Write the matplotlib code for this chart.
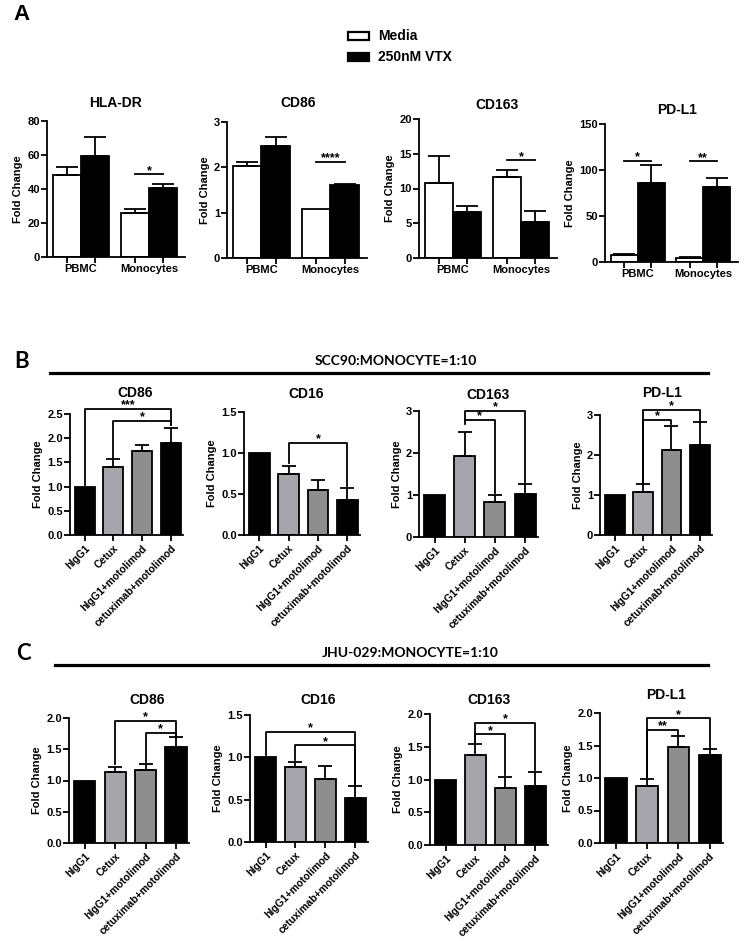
import matplotlib
matplotlib.use('Agg')
import matplotlib.pyplot as plt
from matplotlib.patches import Rectangle
from matplotlib.transforms import offset_copy
import numpy as np

plt.rcParams['font.family'] = ['Liberation Sans', 'DejaVu Sans']

# ---------------- data ----------------
A_titles = ["HLA-DR", "CD86", "CD163", "PD-L1"]
A_groups = ["PBMC", "Monocytes"]
A_legend = ["Media", "250nM VTX"]
A_media = [[48, 26], [2.04, 1.07], [10.8, 11.65], [7.2, 4.3]]
A_media_err = [[4.8, 2.2], [0.08, 0.0], [3.9, 1.05], [1.5, 0.7]]
A_vtx = [[59.5, 40.5], [2.46, 1.60], [6.6, 5.2], [86, 81]]
A_vtx_err = [[11.3, 2.4], [0.22, 0.03], [0.95, 1.6], [19.5, 10]]
A_ymax = [80, 3, 20, 150]
A_ystep = [20, 1, 5, 50]
# (group index, line height, label)
A_sig = [[(1, 48.6, "*")], [(1, 2.12, "****")], [(1, 14.05, "*")],
         [(0, 110, "*"), (1, 109.5, "**")]]

cats = ["hIgG1", "Cetux", "hIgG1+motolimod", "cetuximab+motolimod"]
BC_titles = ["CD86", "CD16", "CD163", "PD-L1"]

B_header = "SCC90:MONOCYTE=1:10"
B_means = [[1.0, 1.40, 1.74, 1.90], [1.0, 0.74, 0.55, 0.43],
           [1.0, 1.92, 0.83, 1.03], [1.0, 1.08, 2.13, 2.26]]
B_errs = [[0, 0.17, 0.12, 0.31], [0, 0.10, 0.12, 0.14],
          [0, 0.57, 0.16, 0.23], [0, 0.19, 0.60, 0.57]]
B_ymax = [2.5, 1.5, 3, 3]
B_ystep = [0.5, 0.5, 1, 1]
# (i, j, height, left leg bottom, right leg bottom, label)
B_sig = [[(0, 3, 2.60, 1.03, 2.27, "***"), (1, 3, 2.36, 1.59, 2.27, "*")],
         [(1, 3, 1.12, 0.88, 0.60, "*")],
         [(1, 3, 3.0, 2.79, 1.30, "*"), (1, 2, 2.79, 2.69, 1.05, "*")],
         [(1, 3, 3.13, 1.31, 2.86, "*"), (1, 2, 2.88, 1.31, 2.77, "*")]]

C_header = "JHU-029:MONOCYTE=1:10"
C_means = [[1.0, 1.14, 1.17, 1.53], [1.0, 0.89, 0.74, 0.52],
           [1.0, 1.38, 0.87, 0.90], [1.0, 0.88, 1.47, 1.35]]
C_errs = [[0, 0.08, 0.09, 0.16], [0, 0.06, 0.16, 0.14],
          [0, 0.16, 0.17, 0.22], [0, 0.11, 0.18, 0.09]]
C_ymax = [2.0, 1.5, 2.0, 2.0]
C_ystep = [0.5, 0.5, 0.5, 0.5]
C_sig = [[(1, 3, 1.96, 1.27, 1.72, "*"), (2, 3, 1.76, 1.30, 1.72, "*")],
         [(0, 3, 1.30, 1.03, 0.67, "*"), (1, 3, 1.14, 0.97, 0.67, "*")],
         [(1, 3, 1.87, 1.56, 1.15, "*"), (1, 2, 1.69, 1.56, 1.07, "*")],
         [(1, 3, 1.92, 1.02, 1.46, "*"), (1, 2, 1.74, 1.02, 1.66, "**")]]

cat_colors = ["black", "#a5a5ab", "#8e8e8e", "black"]

# ---------------- layout ----------------
W, H = 751, 944
fig = plt.figure(figsize=(W / 100, H / 100), dpi=100)


def axpx(x0, y0, x1, y1):
    return fig.add_axes([x0 / W, 1 - y1 / H, (x1 - x0) / W, (y1 - y0) / H])


A_pos = [(47, 121, 185, 257), (227, 122, 367, 258), (419, 119, 557, 258), (605, 124, 738, 262)]
B_pos = [(70, 414, 183, 535), (244, 412, 360, 535), (419, 411, 538, 537), (600, 415, 712, 535)]
C_pos = [(69, 718, 189, 843), (250, 715, 368, 842), (430, 714, 548, 845), (600, 713, 723, 843)]
A_tpos = [(115, 103), (298, 103), (497, 105), (677, 110)]
B_tpos = [(135, 393), (306, 394), (488, 395), (662, 393)]
C_tpos = [(147, 700), (318, 700), (489, 700), (666, 695)]

LW = 1.3
TITLE_FS = 10
TICK_FS = 8
STAR_FS = 9


def title_at(ax, pos, tpx, text):
    x0, y0, x1, y1 = pos
    tx = (tpx[0] - x0) / (x1 - x0)
    ty = 1 + (y0 - tpx[1]) / (y1 - y0)
    ax.text(tx, ty, text, transform=ax.transAxes, ha="center", va="center",
            fontsize=TITLE_FS, fontweight="bold")


def star(ax, x, y, lab):
    trans = offset_copy(ax.transData, fig=fig, x=0, y=0.5, units="dots")
    ax.text(x, y, lab, transform=trans, ha="center", va="baseline",
            fontsize=STAR_FS, fontweight="bold", clip_on=False)


def style(ax, ymax, step):
    ax.set_ylim(0, ymax)
    ticks = np.arange(0, ymax + 1e-9, step)
    ax.set_yticks(ticks)
    if step < 1:
        ax.set_yticklabels(["%.1f" % t for t in ticks])
    else:
        ax.set_yticklabels(["%d" % t for t in ticks])
    for s in ["top", "right"]:
        ax.spines[s].set_visible(False)
    for s in ["left", "bottom"]:
        ax.spines[s].set_linewidth(LW)
    ax.tick_params(axis="y", direction="out", length=4, width=LW, labelsize=TICK_FS, pad=1)
    for lab in ax.get_yticklabels():
        lab.set_fontweight("bold")
    ax.set_ylabel("Fold Change", fontsize=8, fontweight="bold", labelpad=3)
    ax.patch.set_alpha(0)


# Panel A
bw = 0.41
for k in range(4):
    ax = axpx(*A_pos[k])
    g = np.arange(len(A_groups))
    ax.bar(g - bw / 2, A_media[k], bw, color="white", edgecolor="black", linewidth=LW, zorder=2)
    ax.bar(g + bw / 2, A_vtx[k], bw, color="black", edgecolor="black", linewidth=LW, zorder=2)
    for xs, m, e in [(g - bw / 2, A_media[k], A_media_err[k]), (g + bw / 2, A_vtx[k], A_vtx_err[k])]:
        m = np.array(m, float); e = np.array(e, float)
        sel = e > 0
        ax.errorbar(xs[sel], m[sel], yerr=[np.zeros(sel.sum()), e[sel]], fmt="none",
                    ecolor="black", elinewidth=LW, capsize=8, capthick=LW, zorder=3)
    ax.set_xlim(-0.5, 1.53)
    style(ax, A_ymax[k], A_ystep[k])
    ax.set_xticks(g)
    ax.set_xticklabels(A_groups, fontsize=TICK_FS, fontweight="bold")
    ax.tick_params(axis="x", which="major", length=0, pad=5)
    ax.set_xticks(np.concatenate([g - bw / 2, g + bw / 2]), minor=True)
    ax.tick_params(axis="x", which="minor", direction="out", length=4, width=LW)
    title_at(ax, A_pos[k], A_tpos[k], A_titles[k])
    for gi, y, lab in A_sig[k]:
        ax.plot([gi - bw / 2, gi + bw / 2], [y, y], color="black", lw=LW, clip_on=False)
        star(ax, gi, y, lab)


def bc_panel(pos, tpos, means, errs, ymax, ystep, sigs):
    for k in range(4):
        ax = axpx(*pos[k])
        x = np.arange(len(cats))
        ax.bar(x, means[k], 0.7, color=cat_colors, edgecolor="black", linewidth=LW, zorder=2)
        m = np.array(means[k], float); e = np.array(errs[k], float)
        sel = e > 0
        ax.errorbar(x[sel], m[sel], yerr=[np.zeros(sel.sum()), e[sel]], fmt="none",
                    ecolor="black", elinewidth=LW, capsize=5, capthick=LW, zorder=3)
        ax.set_xlim(-0.52, 3.43)
        style(ax, ymax[k], ystep[k])
        ax.set_xticks(x)
        ax.set_xticklabels(cats, rotation=45, ha="right", rotation_mode="anchor",
                           fontsize=7.5, fontweight="bold")
        ax.tick_params(axis="x", direction="out", length=4, width=LW, pad=2)
        title_at(ax, pos[k], tpos[k], BC_titles[k])
        for i, j, y, lb, rb, lab in sigs[k]:
            ax.plot([i, i, j, j], [lb, y, y, rb], color="black", lw=LW, clip_on=False, zorder=4)
            star(ax, (i + j) / 2, y, lab)


bc_panel(B_pos, B_tpos, B_means, B_errs, B_ymax, B_ystep, B_sig)
bc_panel(C_pos, C_tpos, C_means, C_errs, C_ymax, C_ystep, C_sig)

# overlay for annotations in pixel coordinates
ov = fig.add_axes([0, 0, 1, 1], zorder=-1)
ov.set_xlim(0, W)
ov.set_ylim(H, 0)
ov.axis("off")

ov.text(22, 15, "A", fontsize=16, fontweight="bold", ha="center", va="center")
ov.text(22, 362, "B", fontsize=16, fontweight="bold", ha="center", va="center", family=["Lato", "DejaVu Sans"])
ov.text(23, 653, "C", fontsize=16, fontweight="bold", ha="center", va="center", family=["Lato", "DejaVu Sans"])

# legend
ov.add_patch(Rectangle((348, 32), 21, 8, facecolor="white", edgecolor="black", lw=1.6))
ov.add_patch(Rectangle((348, 53), 21, 8, facecolor="black", edgecolor="black", lw=1.6))
ov.text(378, 36, A_legend[0], fontsize=10, fontweight="bold", va="center", ha="left")
ov.text(378, 57, A_legend[1], fontsize=10, fontweight="bold", va="center", ha="left")

# headers
ov.text(396, 361, B_header, fontsize=10, fontweight="bold", ha="center", va="center", family=["Lato", "DejaVu Sans"])
ov.plot([50, 708], [373, 373], color="black", lw=2.3)
ov.text(410, 653, C_header, fontsize=10, fontweight="bold", ha="center", va="center", family=["Lato", "DejaVu Sans"])
ov.plot([55, 708], [665, 665], color="black", lw=2.3)

fig.savefig("out.png", dpi=100)
